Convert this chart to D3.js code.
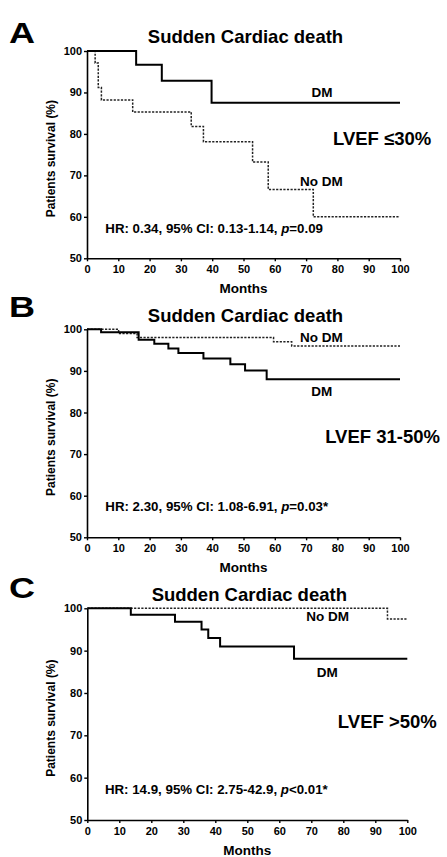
<!DOCTYPE html>
<html><head><meta charset="utf-8">
<script src="https://cdn.jsdelivr.net/npm/d3@7"></script>
<style>
body{margin:0;background:#fff}
svg{display:block}
text{font-family:"Liberation Sans",Arial,Helvetica,sans-serif;font-weight:bold;fill:#000}
</style>
</head><body>
<svg id="chart" width="447" height="857"></svg>
<script>
// ---------- data ----------
const xTicks = [0, 10, 20, 30, 40, 50, 60, 70, 80, 90, 100];
const yTicks = [50, 60, 70, 80, 90, 100];
const panelLetters = ["A", "B", "C"];
const chartTitle = "Sudden Cardiac death";
const xLabel = "Months";
const yLabel = "Patients survival (%)";
const seriesNames = ["DM", "No DM"];
const lvefLabels = ["LVEF \u226430%", "LVEF 31-50%", "LVEF >50%"];
const hrPrefix = ["HR: 0.34, 95% CI: 0.13-1.14, ", "HR: 2.30, 95% CI: 1.08-6.91, ", "HR: 14.9, 95% CI: 2.75-42.9, "];
const pSuffix = ["=0.09", "=0.03*", "<0.01*"];

// Panel A (LVEF <=30%)
const aDMTime   = [0, 15.7, 23.9, 39.8, 100];
const aDMSurv   = [100, 96.7, 92.8, 87.5, 87.5];
const aNoDMTime = [0, 2.6, 3.6, 4.6, 14.6, 33.3, 37.2, 52.9, 57.9, 72.3, 100];
const aNoDMSurv = [100, 97.1, 91.2, 88.2, 85.3, 81.8, 78.1, 73.2, 66.6, 60.0, 60.0];
// Panel B (LVEF 31-50%)
const bDMTime   = [0, 4.5, 16.5, 21.5, 26.0, 29.2, 37.2, 45.8, 50.5, 57.4, 100];
const bDMSurv   = [100, 99.3, 97.5, 96.5, 95.4, 94.3, 93.0, 91.6, 90.1, 88.0, 88.0];
const bNoDMTime = [0, 10.1, 16.0, 59.6, 65.4, 100];
const bNoDMSurv = [100, 99.0, 98.0, 97.0, 96.0, 96.0];
// Panel C (LVEF >50%)
const cDMTime   = [0, 13.6, 27.4, 35.7, 37.8, 41.5, 64.6, 100];
const cDMSurv   = [100, 98.5, 96.8, 95.0, 93.0, 91.0, 88.1, 88.1];
const cNoDMTime = [0, 93.8, 100];
const cNoDMSurv = [100, 97.5, 97.5];

// ---------- layout (positions only) ----------
const layout = [
  {x0: 87, x1: 400, yTop: 51, yBot: 258.3, letterY: 43, titleY: 43,
   dmLbl: [75.1, 88.9], noLbl: [74.9, 67.5], lvef: [78.6, 77.3], hr: [5.85, 56.2]},
  {x0: 87, x1: 400, yTop: 329.3, yBot: 537.3, letterY: 317, titleY: 321.7,
   dmLbl: [75.0, 84.0], noLbl: [74.9, 97.0], lvef: [76.1, 72.6], hr: [5.85, 56.3]},
  {x0: 87.3, x1: 407.3, yTop: 608.3, yBot: 820, letterY: 598, titleY: 601,
   dmLbl: [75.0, 83.8], noLbl: [75.1, 97.1], lvef: [78.3, 71.7], hr: [5.5, 56.1]}
];

const dmSeries = [[aDMTime, aDMSurv], [bDMTime, bDMSurv], [cDMTime, cDMSurv]];
const noSeries = [[aNoDMTime, aNoDMSurv], [bNoDMTime, bNoDMSurv], [cNoDMTime, cNoDMSurv]];

const svg = d3.select("#chart");

layout.forEach((L, i) => {
  const x = d3.scaleLinear().domain([0, 100]).range([L.x0, L.x1]);
  const y = d3.scaleLinear().domain([50, 100]).range([L.yBot, L.yTop]);
  const g = svg.append("g");

  // panel letter
  g.append("text").attr("x", 9).attr("y", L.letterY)
    .attr("font-size", 30).attr("transform", `translate(9,${L.letterY}) scale(1.2,1) translate(-9,${-L.letterY})`)
    .style("font-weight", "900").text(panelLetters[i]);

  // title
  g.append("text").attr("x", (L.x0 + L.x1) / 2 + 2).attr("y", L.titleY)
    .attr("text-anchor", "middle").attr("font-size", 18.5).text(chartTitle);

  // axes
  const xa = g.append("g").attr("transform", `translate(0,${L.yBot})`)
    .call(d3.axisBottom(x).tickValues(xTicks).tickSize(3).tickSizeOuter(0).tickPadding(4));
  const ya = g.append("g").attr("transform", `translate(${L.x0},0)`)
    .call(d3.axisLeft(y).tickValues(yTicks).tickSize(3).tickSizeOuter(0).tickPadding(2));
  [xa, ya].forEach(a => {
    a.select(".domain").attr("stroke", "#000").attr("stroke-width", 1.6);
    a.selectAll(".tick line").attr("stroke", "#000").attr("stroke-width", 1.4);
    a.selectAll(".tick text").attr("font-size", 11).attr("font-family", "Liberation Sans, Arial, sans-serif")
      .style("font-weight", "bold").attr("fill", "#111");
  });
  xa.selectAll(".tick text").attr("dy", "0.71em");

  // axis labels
  g.append("text").attr("x", (L.x0 + L.x1) / 2).attr("y", L.yBot + 35)
    .attr("text-anchor", "middle").attr("font-size", 13.5).text(xLabel);
  const ymid = (L.yTop + L.yBot) / 2 + 4;
  g.append("text").attr("transform", `translate(55,${ymid}) rotate(-90)`)
    .attr("text-anchor", "middle").attr("font-size", 12).text(yLabel);

  // curves
  const line = d3.line().x(d => x(d[0])).y(d => y(d[1])).curve(d3.curveStepAfter);
  const dm = dmSeries[i][0].map((t, k) => [t, dmSeries[i][1][k]]);
  const no = noSeries[i][0].map((t, k) => [t, noSeries[i][1][k]]);
  g.append("path").attr("d", line(no)).attr("fill", "none").attr("stroke", "#222")
    .attr("stroke-width", 1.5).attr("stroke-dasharray", "2.2,1.4");
  g.append("path").attr("d", line(dm)).attr("fill", "none").attr("stroke", "#000")
    .attr("stroke-width", 2);

  // series labels
  g.append("text").attr("x", x(L.dmLbl[0])).attr("y", y(L.dmLbl[1]))
    .attr("text-anchor", "middle").attr("font-size", 13.5).text(seriesNames[0]);
  g.append("text").attr("x", x(L.noLbl[0])).attr("y", y(L.noLbl[1]))
    .attr("text-anchor", "middle").attr("font-size", 13.5).text(seriesNames[1]);

  // LVEF label
  g.append("text").attr("x", x(L.lvef[0])).attr("y", y(L.lvef[1]))
    .attr("font-size", 18.5).text(lvefLabels[i]);

  // HR text
  const hr = g.append("text").attr("x", x(L.hr[0])).attr("y", y(L.hr[1])).attr("font-size", 13.3);
  hr.append("tspan").text(hrPrefix[i]);
  hr.append("tspan").style("font-style", "italic").text("p");
  hr.append("tspan").text(pSuffix[i]);
});
</script>
</body></html>
